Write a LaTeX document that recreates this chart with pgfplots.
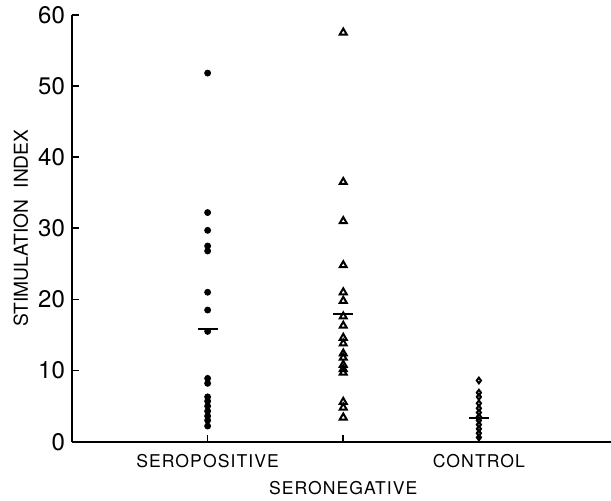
\documentclass[border=0pt]{standalone}
\usepackage{fontspec}
\usepackage{pgfplots}
\pgfplotsset{compat=1.18}
\setmainfont{TeX Gyre Heros}
\newfontfamily\labfont[LetterSpace=6]{TeX Gyre Heros}

\begin{document}
\begin{tikzpicture}
  \path[use as bounding box] (-36pt,-29.15pt) rectangle (269.5pt,220.85pt);
  \begin{axis}[
      at={(0,0)}, anchor=south west,
      scale only axis,
      width=269.5pt, height=213.5pt,
      xmin=0, xmax=3.974,
      ymin=0, ymax=60,
      axis x line*=bottom,
      axis y line*=left,
      axis line style={black, line width=0.9pt},
      xtick={1,3},
      xticklabels={SEROPOSITIVE,CONTROL},
      extra x ticks={2},
      extra x tick labels={SERONEGATIVE},
      extra x tick style={xticklabel style={yshift=-13.5pt}},
      ytick={0,10,...,60},
      tick align=inside,
      major tick length=3.5pt,
      tick style={black, line width=0.8pt},
      /pgf/number format/assume math mode=true,
      yticklabel style={font=\fontsize{12}{13}\selectfont},
      xticklabel style={font=\fontsize{8.8}{10}\selectfont\labfont, yshift=-3pt},
      ylabel={STIMULATION\hspace{0.6em}INDEX},
      ylabel style={font=\fontsize{9.6}{11}\selectfont, at={(axis description cs:-0.095,0.5)}, anchor=center},
      clip=false,
    ]
    % seropositive
    \addplot[only marks, mark=*, mark size=1.5pt, black] coordinates {
      (1,51.8) (1,32.2) (1,29.7) (1,27.5) (1,26.8) (1,21.0) (1,18.5)
      (1,15.5) (1,8.9) (1,8.2) (1,6.3) (1,5.7) (1,5.0) (1,4.3)
      (1,3.6) (1,3.0) (1,2.2)
    };
    % seronegative
    \addplot[only marks, mark=triangle, mark size=2pt, black, line width=1pt] coordinates {
      (2,57.5) (2,36.5) (2,31.0) (2,24.8) (2,21.0) (2,19.8) (2,17.6)
      (2,16.3) (2,14.6) (2,13.8) (2,12.4) (2,11.8) (2,10.8) (2,10.2)
      (2,9.7) (2,5.6) (2,4.8) (2,3.4)
    };
    % control
    \addplot[only marks, mark=diamond, mark size=1.4pt, black, line width=1pt] coordinates {
      (3,8.6) (3,6.9) (3,6.3) (3,5.4) (3,4.7) (3,4.1) (3,3.5)
      (3,3.0) (3,2.4) (3,1.8) (3,1.2) (3,0.6)
    };
    % means
    \addplot[only marks, mark=-, mark size=5pt, black, line width=1pt] coordinates {
      (1,15.8) (2,18.0) (3,3.4)
    };
  \end{axis}
\end{tikzpicture}
\end{document}
